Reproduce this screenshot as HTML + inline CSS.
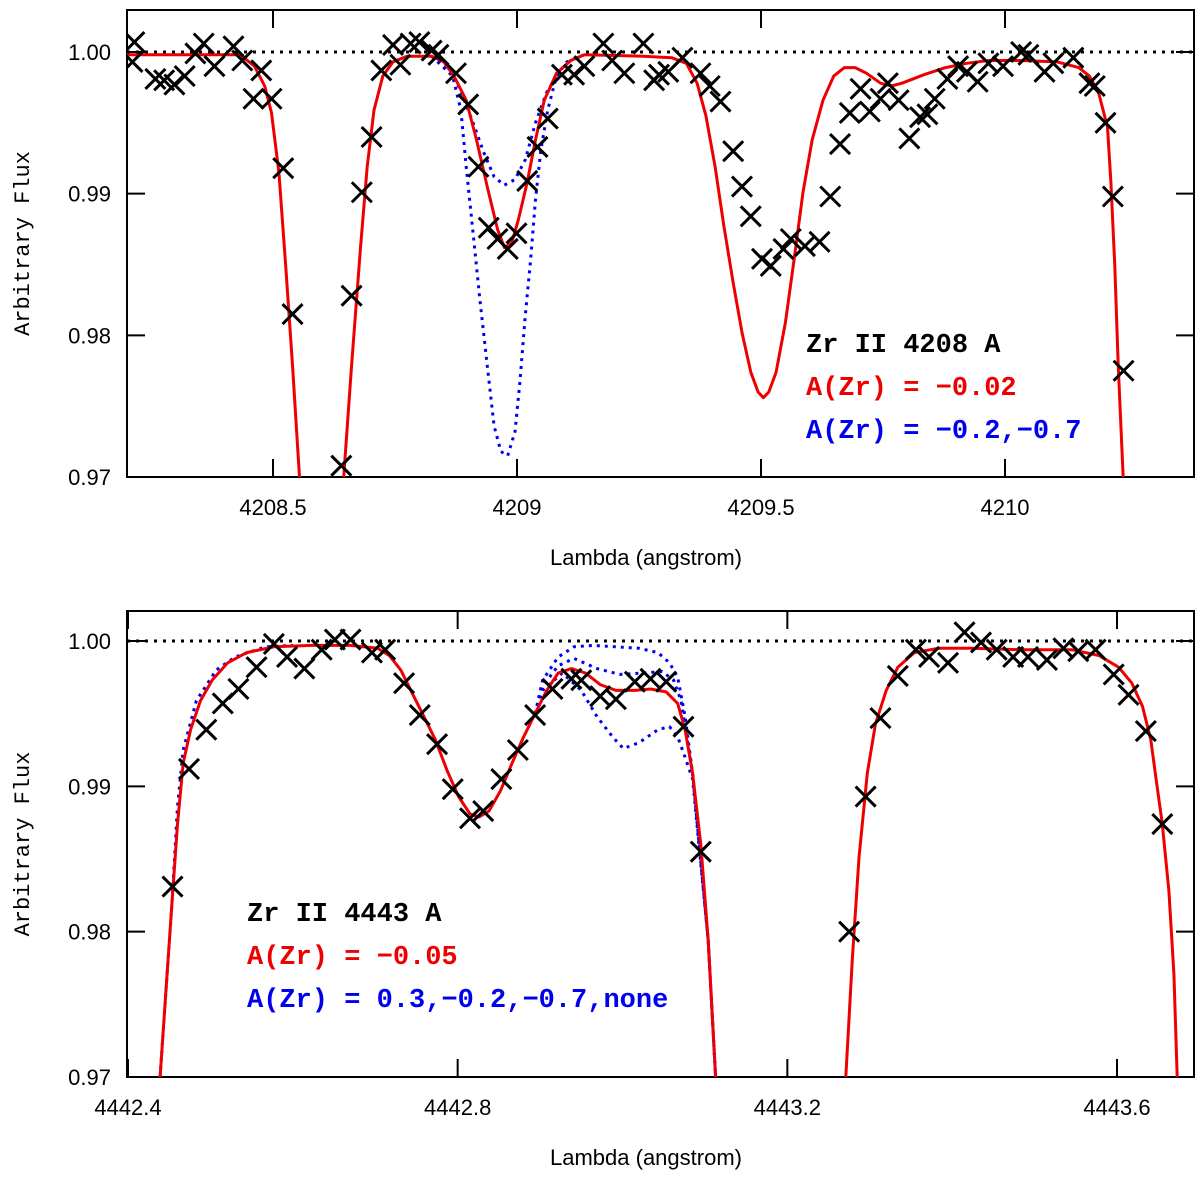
<!DOCTYPE html>
<html><head><meta charset="utf-8"><style>
html,body{margin:0;padding:0;background:#fff;}
svg{display:block;}
.tick{font-family:"Liberation Sans",sans-serif;font-size:22px;fill:#000;}
.ann{font-family:"Liberation Mono",monospace;font-weight:bold;font-size:27px;}
.ytitle{font-family:"Liberation Mono",monospace;font-size:22px;fill:#000;}
</style></head><body>
<svg id="chart" width="1200" height="1179" viewBox="0 0 1200 1179" xmlns="http://www.w3.org/2000/svg">
<defs>
<clipPath id="clipTop"><rect x="127" y="10" width="1067" height="467"/></clipPath>
<clipPath id="clipBot"><rect x="127" y="611" width="1067" height="466"/></clipPath>
</defs>
<g id="top"></g>
<g id="bot"></g>
</svg>
<script>
// ===== Top panel data (Zr II 4208) =====
const topXTicks = [4208.5, 4209, 4209.5, 4210];
const topXTickLabels = ["4208.5", "4209", "4209.5", "4210"];
const yTicks = [0.97, 0.98, 0.99, 1.00];
const yTickLabels = ["0.97", "0.98", "0.99", "1.00"];
const topObsLambda = [4208.216,4208.212,4208.259,4208.277,4208.298,4208.319,4208.341,4208.358,4208.380,4208.419,4208.437,4208.476,4208.460,4208.497,4208.521,4208.540,4208.640,4208.661,4208.682,4208.702,4208.722,4208.746,4208.761,4208.782,4208.800,4208.825,4208.839,4208.875,4208.900,4208.921,4208.942,4208.960,4208.981,4208.999,4209.021,4209.042,4209.063,4209.092,4209.117,4209.138,4209.177,4209.195,4209.220,4209.259,4209.281,
4209.291,4209.310,4209.339,4209.376,4209.395,4209.417,4209.443,4209.461,4209.479,4209.502,4209.520,4209.546,4209.561,4209.590,4209.620,4209.642,4209.662,4209.682,4209.704,4209.723,4209.745,4209.760,4209.782,4209.804,4209.826,4209.841,4209.856,4209.882,4209.904,4209.922,4209.944,4209.966,4209.996,4210.033,4210.048,4210.081,4210.099,4210.140,4210.173,4210.184,4210.206,4210.221,4210.243];
const topObsFlux = [1.0007,0.9993,0.9981,0.9980,0.9977,0.9983,0.9999,1.0006,0.9990,1.0004,0.9994,0.9987,0.9967,0.9967,0.9918,0.9815,0.9708,0.9828,0.9901,0.9940,0.9987,1.0005,0.9991,1.0006,1.0007,1.0001,0.9998,0.9985,0.9963,0.9919,0.9876,0.9868,0.9861,0.9872,0.9909,0.9933,0.9953,0.9984,0.9984,0.9990,1.0006,0.9994,0.9985,1.0006,0.9980,
0.9984,0.9986,0.9996,0.9985,0.9976,0.9965,0.9930,0.9905,0.9884,0.9854,0.9849,0.9861,0.9868,0.9863,0.9866,0.9898,0.9935,0.9957,0.9974,0.9958,0.9967,0.9978,0.9966,0.9939,0.9954,0.9956,0.9967,0.9981,0.9990,0.9986,0.9979,0.9992,0.9990,1.0000,0.9998,0.9986,0.9992,0.9996,0.9978,0.9976,0.9950,0.9898,0.9775];
const topFitLambda = [4208.198,4208.433,4208.462,4208.483,4208.497,4208.512,4208.526,4208.540,4208.554,4208.562,4208.640,4208.645,4208.661,4208.679,4208.693,4208.707,4208.725,4208.746,4208.775,4208.825,4208.850,4208.871,4208.896,4208.917,4208.939,4208.960,4208.974,4208.989,4209.003,4209.021,4209.038,4209.056,4209.081,4209.110,4209.138,4209.258,4209.317,4209.347,4209.369,4209.387,4209.406,4209.424,4209.443,4209.461,4209.479,4209.494,4209.505,4209.516,4209.531,4209.550,4209.568,4209.586,4209.605,4209.627,4209.649,4209.671,4209.693,4209.716,4209.745,4209.767,4209.789,4209.834,4209.878,4209.922,4209.966,4210.033,4210.107,4210.151,4210.173,4210.192,4210.210,4210.217,4210.225,4210.232,4210.242,4210.248];
const topFitFlux = [0.9998,0.9998,0.9990,0.9976,0.9957,0.9915,0.9849,0.9779,0.9701,0.965,0.965,0.9701,0.9779,0.9861,0.9919,0.9959,0.9983,0.9993,0.9997,0.9997,0.9993,0.9983,0.9966,0.9938,0.9905,0.9875,0.9862,0.9865,0.9882,0.9908,0.9938,0.9966,0.9985,0.9994,0.9998,0.9997,0.9996,0.9992,0.9978,0.9955,0.9919,0.9877,0.9837,0.9802,0.9774,0.9760,0.9756,0.9760,0.9774,0.9809,0.9854,0.9901,0.9938,0.9966,0.9983,0.9989,0.9989,0.9985,0.9978,0.9976,0.9978,0.9984,0.9989,0.9992,0.9994,0.9994,0.9993,0.9989,0.9983,0.9971,0.9947,0.9908,0.9849,0.9779,0.9701,0.965];
const topAltALambda = [4208.825,4208.868,4208.889,4208.910,4208.932,4208.953,4208.974,4208.996,4209.017,4209.038,4209.060,4209.088,4209.110,4209.138];
const topAltAFlux = [0.9997,0.9985,0.9969,0.9950,0.9929,0.9912,0.9906,0.9910,0.9924,0.9950,0.9971,0.9987,0.9994,0.9998];
const topAltBLambda = [4208.825,4208.868,4208.885,4208.896,4208.910,4208.924,4208.939,4208.953,4208.967,4208.981,4208.996,4209.006,4209.017,4209.028,4209.038,4209.049,4209.063,4209.081,4209.102,4209.138];
const topAltBFlux = [0.9997,0.9983,0.9959,0.9919,0.9872,0.9825,0.9779,0.9736,0.9718,0.9715,0.9732,0.9767,0.9814,0.9854,0.9896,0.9931,0.9959,0.9983,0.9993,0.9998];

// ===== Bottom panel data (Zr II 4443) =====
const botXTicks = [4442.4, 4442.8, 4443.2, 4443.6];
const botXTickLabels = ["4442.4", "4442.8", "4443.2", "4443.6"];
const botObsLambda = [4442.454,4442.474,4442.495,4442.515,4442.534,4442.556,4442.577,4442.593,4442.614,4442.635,4442.651,4442.670,4442.696,4442.712,4442.735,4442.754,4442.775,4442.794,4442.815,4442.831,4442.853,4442.873,4442.894,4442.915,4442.938,4442.950,4442.973,4442.992,4443.015,4443.034,4443.053,4443.074,4443.095,
4443.275,4443.295,4443.313,4443.334,4443.356,4443.372,4443.395,4443.415,4443.435,4443.454,4443.474,4443.492,4443.515,4443.535,4443.553,4443.574,4443.596,4443.614,4443.635,4443.655];
const botObsFlux = [0.9831,0.9912,0.9939,0.9957,0.9967,0.9982,0.9998,0.9989,0.9981,0.9994,1.0001,1.0001,0.9992,0.9994,0.9971,0.9949,0.9929,0.9898,0.9878,0.9883,0.9905,0.9925,0.9949,0.9967,0.9974,0.9973,0.9962,0.9960,0.9972,0.9974,0.9972,0.9941,0.9855,
0.9800,0.9893,0.9947,0.9976,0.9994,0.9989,0.9985,1.0006,0.9999,0.9994,0.9989,0.9989,0.9987,0.9995,0.9993,0.9994,0.9977,0.9963,0.9938,0.9874];
const botFitALambda = [4442.436,4442.439,4442.446,4442.453,4442.460,4442.467,4442.476,4442.488,4442.502,4442.521,4442.544,4442.577,4442.623,4442.670,4442.703,4442.717,4442.731,4442.745,4442.759,4442.773,4442.787,4442.801,4442.815,4442.826,4442.838,4442.852,4442.866,4442.880,4442.894,4442.908,4442.922,4442.938,4442.955,4442.973,4442.992,4443.015,4443.034,4443.053,4443.067,4443.076,4443.085,4443.095,4443.104,4443.113,4443.116];
const botFitAFlux = [0.965,0.9700,0.9759,0.9817,0.9874,0.9916,0.9939,0.9959,0.9973,0.9985,0.9992,0.9996,0.9997,0.9997,0.9995,0.9990,0.9980,0.9964,0.9948,0.9932,0.9911,0.9893,0.9881,0.9879,0.9883,0.9897,0.9916,0.9934,0.9950,0.9966,0.9978,0.9981,0.9978,0.9970,0.9966,0.9966,0.9967,0.9965,0.9957,0.9939,0.9909,0.9860,0.9794,0.9700,0.965];
const botFitBLambda = [4443.268,4443.271,4443.279,4443.287,4443.297,4443.307,4443.320,4443.334,4443.354,4443.383,4443.423,4443.484,4443.545,4443.578,4443.602,4443.618,4443.631,4443.641,4443.647,4443.655,4443.663,4443.669,4443.673,4443.675];
const botFitBFlux = [0.965,0.9700,0.9782,0.9851,0.9909,0.9943,0.9966,0.9982,0.9992,0.9995,0.9995,0.9994,0.9994,0.9990,0.9982,0.9971,0.9955,0.9932,0.9907,0.9874,0.9828,0.9771,0.9700,0.965];
const botAltShoulderLambda = [4442.439,4442.453,4442.460,4442.467,4442.483,4442.507,4442.530,4442.567,4442.600];
const botAltShoulderFlux = [0.9700,0.9817,0.9886,0.9925,0.9959,0.9980,0.9989,0.9996,0.9997];
const botAltHighLambda = [4442.894,4442.903,4442.922,4442.941,4442.964,4442.992,4443.020,4443.043,4443.057,4443.067,4443.076,4443.085,4443.104,4443.113];
const botAltHighFlux = [0.9950,0.9973,0.9989,0.9996,0.9997,0.9996,0.9995,0.9992,0.9985,0.9975,0.9948,0.9909,0.9794,0.9700];
const botAltMidLambda = [4442.894,4442.903,4442.922,4442.941,4442.969,4442.997,4443.025,4443.048,4443.062,4443.071,4443.085,4443.104,4443.113];
const botAltMidFlux = [0.9950,0.9969,0.9983,0.9988,0.9981,0.9977,0.9978,0.9979,0.9973,0.9959,0.9909,0.9794,0.9700];
const botAltLowLambda = [4442.894,4442.903,4442.927,4442.950,4442.969,4442.988,4443.001,4443.020,4443.043,4443.057,4443.067,4443.076,4443.085,4443.104,4443.113];
const botAltLowFlux = [0.9950,0.9966,0.9978,0.9966,0.9948,0.9934,0.9926,0.9930,0.9939,0.9941,0.9934,0.9920,0.9905,0.9794,0.9700];

const NS = "http://www.w3.org/2000/svg";
function mk(parent, tag, attrs) {
  const e = document.createElementNS(NS, tag);
  for (const k in attrs) e.setAttribute(k, attrs[k]);
  parent.appendChild(e);
  return e;
}
function makeScale(d0, d1, r0, r1) { return v => r0 + (v - d0) * (r1 - r0) / (d1 - d0); }

function drawPanel(g, cfg) {
  const L = 127, R = 1194, T = cfg.top, B = cfg.bottom;
  const xs = makeScale(cfg.xd0, cfg.xd1, cfg.xr0, cfg.xr1);
  const ys = makeScale(0.97, 1.00, B, cfg.y100);
  const fr = mk(g, "rect", {x: L, y: T, width: R - L, height: B - T, fill: "none", stroke: "#000", "stroke-width": 2});
  
  
  cfg.xTicks.forEach((v, i) => {
    const x = xs(v);
    const t1 = mk(g, "line", {x1: x, y1: B, x2: x, y2: B - 18, stroke: "#000", "stroke-width": 2});
    
    
    const t2 = mk(g, "line", {x1: x, y1: T, x2: x, y2: T + 18, stroke: "#000", "stroke-width": 2});
    
    
    const lb = mk(g, "text", {x: x, y: B + 38, "text-anchor": "middle", class: "tick"});
    lb.textContent = cfg.xLabels[i];
    
    
  });
  yTicks.forEach((v, i) => {
    const y = ys(v);
    const t1 = mk(g, "line", {x1: L, y1: y, x2: L + 18, y2: y, stroke: "#000", "stroke-width": 2});
    
    
    const t2 = mk(g, "line", {x1: R, y1: y, x2: R - 18, y2: y, stroke: "#000", "stroke-width": 2});
    
    
    const lb = mk(g, "text", {x: 111, y: y + 8, "text-anchor": "end", class: "tick"});
    lb.textContent = yTickLabels[i];
    
    
  });
  const xt = mk(g, "text", {x: 646, y: B + 88, "text-anchor": "middle", class: "tick"});
  xt.textContent = "Lambda (angstrom)";
  
  
  const cy = (T + B) / 2;
  const yt = mk(g, "text", {x: 22, y: cy, "text-anchor": "middle", class: "ytitle", transform: "rotate(-90 22 " + cy + ") translate(0 7)"});
  yt.textContent = "Arbitrary Flux";
  
  

  const pg = mk(g, "g", {"clip-path": "url(#" + cfg.clip + ")"});
  
  
  const cl = mk(pg, "line", {x1: L, y1: ys(1.0), x2: R, y2: ys(1.0), stroke: "#000", "stroke-width": 3, "stroke-dasharray": "3 6"});
  
  

  function path(lx, fy, color, dash, name) {
    let d = "";
    lx.forEach((v, i) => { d += (i ? "L" : "M") + xs(v).toFixed(1) + "," + ys(fy[i]).toFixed(1); });
    const p = mk(pg, "path", {d: d, fill: "none", stroke: color, "stroke-width": 3, "stroke-linejoin": "round"});
    if (dash) p.setAttribute("stroke-dasharray", dash);
    
    
  }
  cfg.alts.forEach(a => path(a[0], a[1], "#0000ee", "3 5", "alt-abundance-model"));
  cfg.fits.forEach(a => path(a[0], a[1], "#ee0000", null, "best-fit-model"));
  cfg.obsX.forEach((v, i) => {
    const x = xs(v), y = ys(cfg.obsY[i]), s = 10;
    const c = mk(pg, "path", {d: `M${x - s},${y - s}L${x + s},${y + s}M${x - s},${y + s}L${x + s},${y - s}`, stroke: "#000", "stroke-width": 3, fill: "none"});
    
    
  });
  cfg.ann.forEach((a, i) => {
    const t = mk(g, "text", {x: cfg.annX, y: cfg.annY + i * 43, class: "ann", fill: a[1]});
    t.textContent = a[0];
    
    
  });
}

drawPanel(document.getElementById("top"), {
  top: 10, bottom: 477, y100: 52, clip: "clipTop",
  xd0: 4208.5, xd1: 4210, xr0: 273, xr1: 1005,
  xTicks: topXTicks, xLabels: topXTickLabels,
  obsX: topObsLambda, obsY: topObsFlux,
  fits: [[topFitLambda, topFitFlux]],
  alts: [[topAltALambda, topAltAFlux], [topAltBLambda, topAltBFlux]],
  annX: 806, annY: 352,
  ann: [["Zr II 4208 A", "#000", "line-label"], ["A(Zr) = \u22120.02", "#ee0000", "fit-label"], ["A(Zr) = \u22120.2,\u22120.7", "#0000ee", "alt-label"]]
});
drawPanel(document.getElementById("bot"), {
  top: 611, bottom: 1077, y100: 641, clip: "clipBot",
  xd0: 4442.4, xd1: 4443.6, xr0: 128, xr1: 1117,
  xTicks: botXTicks, xLabels: botXTickLabels,
  obsX: botObsLambda, obsY: botObsFlux,
  fits: [[botFitALambda, botFitAFlux], [botFitBLambda, botFitBFlux]],
  alts: [[botAltShoulderLambda, botAltShoulderFlux], [botAltHighLambda, botAltHighFlux], [botAltMidLambda, botAltMidFlux], [botAltLowLambda, botAltLowFlux]],
  annX: 247, annY: 921,
  ann: [["Zr II 4443 A", "#000", "line-label"], ["A(Zr) = \u22120.05", "#ee0000", "fit-label"], ["A(Zr) = 0.3,\u22120.2,\u22120.7,none", "#0000ee", "alt-label"]]
});
</script>
</body></html>
